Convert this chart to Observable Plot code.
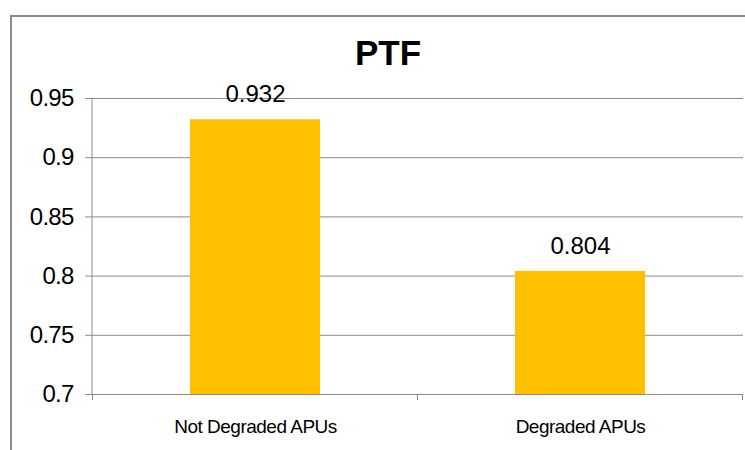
<!DOCTYPE html>
<html>
<head>
<meta charset="utf-8">
<script src="https://cdn.jsdelivr.net/npm/d3@7"></script>
<script src="https://cdn.jsdelivr.net/npm/@observablehq/plot@0.6"></script>
<style>
  html, body { margin: 0; padding: 0; background: #fff; }
  #wrap { position: relative; width: 745px; height: 450px; overflow: hidden; background: #fff; }
  #border { position: absolute; left: 10px; top: 15px; width: 800px; height: 500px; border: 2px solid #8c8c8c; box-sizing: border-box; pointer-events: none; }
  #chart { position: absolute; left: 0; top: 0; }
  svg { font-family: "Liberation Sans", Arial, sans-serif; }
  [aria-label="y-axis tick label"] text { letter-spacing: -0.75px; }
  [aria-label="x-axis tick label"] text { letter-spacing: -0.5px; }
  [aria-label="value labels"] text { letter-spacing: -1px; }
  [aria-label="title"] text { letter-spacing: -2.5px; }
</style>
</head>
<body>
<div id="wrap">
  <div id="border"></div>
  <div id="chart"></div>
</div>
<script>
const title = "PTF";
const categories = ["Not Degraded APUs", "Degraded APUs"];
const values = [0.932, 0.804];
const labels = ["0.932", "0.804"];
const yDomain = [0.7, 0.95];
const yTicks = [0.7, 0.75, 0.8, 0.85, 0.9, 0.95];
const yTickLabels = ["0.7", "0.75", "0.8", "0.85", "0.9", "0.95"];

const data = categories.map((c, i) => ({cat: c, value: values[i], label: labels[i]}));
const gray = "#8a8a8a";

const plot = Plot.plot({
  width: 745,
  height: 450,
  marginLeft: 92,
  marginRight: 2,
  marginTop: 98,
  marginBottom: 56,
  style: {color: "#000", background: "transparent", fontFamily: "Liberation Sans, Arial, sans-serif"},
  x: {domain: categories, paddingInner: 0.6, paddingOuter: 0.3, label: null},
  y: {domain: yDomain, label: null},
  marks: [
    Plot.gridY(yTicks, {stroke: gray, strokeOpacity: 1, strokeWidth: 1}),
    Plot.barY(data, {x: "cat", y1: yDomain[0], y2: "value", fill: "#FFC000"}),
    Plot.axisY(yTicks, {
      tickSize: 7, tickPadding: 12, stroke: gray, fontSize: 24,
      tickFormat: (d) => yTickLabels[yTicks.indexOf(d)], label: null
    }),
    Plot.axisX({tickSize: 0, tickPadding: 25, fontSize: 19, label: null}),
    Plot.ruleY([yDomain[0]], {stroke: gray, strokeWidth: 1}),
    Plot.text(data, {x: "cat", y: "value", text: "label", dy: -25, fontSize: 24, fill: "#000", ariaLabel: "value labels"}),
    Plot.text([title], {frameAnchor: "top", lineAnchor: "middle", dx: -30, dy: -45, fontSize: 35, fontWeight: "bold", fill: "#000", ariaLabel: "title"})
  ]
});

document.getElementById("chart").appendChild(plot);

// Category-boundary tick marks on the x axis, derived from the band scale
const sx = plot.scale("x");
const sy = plot.scale("y");
const step = sx.step, bw = sx.bandwidth;
const y0 = sy.apply(yDomain[0]);
const bounds = [];
categories.forEach((c, i) => {
  const left = sx.apply(c) - (step - bw) / 2;
  bounds.push(left);
  if (i === categories.length - 1) bounds.push(left + step);
});
const svg = d3.select(plot);
svg.append("g").attr("aria-label", "x boundary ticks")
  .selectAll("line").data(bounds).join("line")
  .attr("x1", d => d).attr("x2", d => d)
  .attr("y1", y0).attr("y2", y0 + 6)
  .attr("stroke", gray).attr("stroke-width", 1);
// left axis line through full frame height
svg.append("line")
  .attr("x1", sx.range[0]).attr("x2", sx.range[0])
  .attr("y1", sy.apply(yDomain[1])).attr("y2", y0)
  .attr("stroke", gray).attr("stroke-width", 1);
</script>
</body>
</html>
